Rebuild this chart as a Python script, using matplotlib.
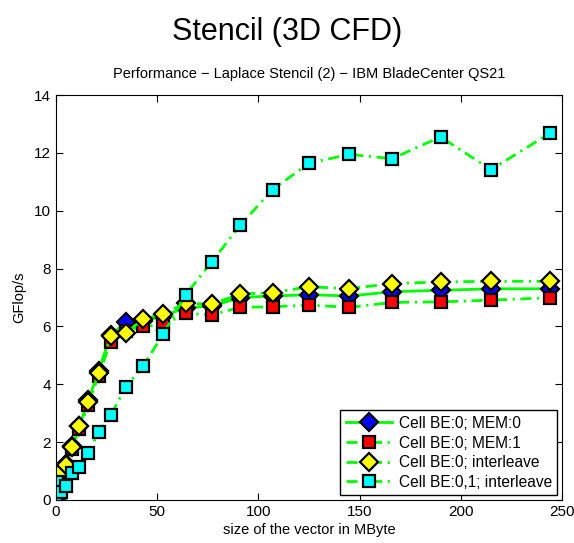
import matplotlib.pyplot as plt

# vector size in MByte
sizes = [0, 0.3, 2.5, 5, 8, 11.5, 16, 21, 27, 34.5, 43, 53, 64, 77,
         91, 107, 125, 145, 166, 190, 215, 244]

# GFlop/s for each configuration
mem0 = [0, 0.5, 1.0, 1.25, 1.85, 2.55, 3.45, 4.45, 5.7, 6.15, 6.2, 6.35, 6.65, 6.7,
        7.0, 7.05, 7.1, 7.05, 7.2, 7.25, 7.3, 7.3]
mem1 = [0, 0.45, 0.95, 1.15, 1.75, 2.45, 3.3, 4.3, 5.47, 5.85, 6.0, 6.05, 6.45, 6.4,
        6.66, 6.68, 6.74, 6.66, 6.83, 6.85, 6.91, 6.99]
inter = [0, 0.5, 1.0, 1.2, 1.82, 2.55, 3.38, 4.38, 5.67, 5.76, 6.25, 6.43, 6.8, 6.77,
         7.12, 7.17, 7.37, 7.31, 7.48, 7.54, 7.56, 7.56]
inter01 = [0, 0.63, 0.29, 0.48, 0.94, 1.15, 1.61, 2.36, 2.93, 3.9, 4.63, 5.74, 7.09, 8.24,
           9.5, 10.73, 11.64, 11.95, 11.8, 12.55, 11.42, 12.68]

labels = ["Cell BE:0; MEM:0", "Cell BE:0; MEM:1",
          "Cell BE:0; interleave", "Cell BE:0,1; interleave"]

plt.rcParams['font.family'] = ['Liberation Sans', 'DejaVu Sans']

fig = plt.figure(figsize=(5.74, 5.43), dpi=100)
ax = fig.add_axes([0.0976, 0.0792, 0.8814, 0.7458])

green = '#00ff00'
dashdot = (4, 2, 0.8, 2)
ax.plot(sizes, mem0, '-', color=green, lw=2, marker='D', ms=9,
        mfc='#0000ff', mec='black', mew=1.6, label=labels[0])
ax.plot(sizes, mem1, color=green, lw=2, dashes=dashdot, marker='s', ms=9,
        mfc='#ff0000', mec='black', mew=1.6, label=labels[1])
ax.plot(sizes, inter, color=green, lw=2, dashes=dashdot, marker='D', ms=9,
        mfc='#ffff00', mec='black', mew=1.6, label=labels[2])
ax.plot(sizes, inter01, color=green, lw=2, dashes=dashdot, marker='s', ms=9,
        mfc='#00ffff', mec='black', mew=1.6, label=labels[3])

ax.set_xlim(0, 250)
ax.set_ylim(0, 14)
ax.set_xticks([0, 50, 100, 150, 200, 250])
ax.set_yticks(range(0, 15, 2))
ax.tick_params(direction='in', top=True, right=True, labelsize=11, length=5)
ax.set_xlabel("size of the vector in MByte", fontsize=10.5, labelpad=3)
ax.set_ylabel("GFlop/s", fontsize=10.5, labelpad=6)
ax.set_title("Performance \u2212 Laplace Stencil (2) \u2212 IBM BladeCenter QS21",
             fontsize=10.5, pad=12)
fig.suptitle("Stencil (3D CFD)", fontsize=22, y=0.968)

leg = ax.legend(loc='lower right', fontsize=11.2, fancybox=False,
                edgecolor='black', framealpha=1, borderaxespad=0.3,
                handlelength=3.0, labelspacing=0.3, borderpad=0.35,
                handletextpad=0.4)
leg.get_frame().set_linewidth(1)

fig.savefig("out.png", dpi=100)
